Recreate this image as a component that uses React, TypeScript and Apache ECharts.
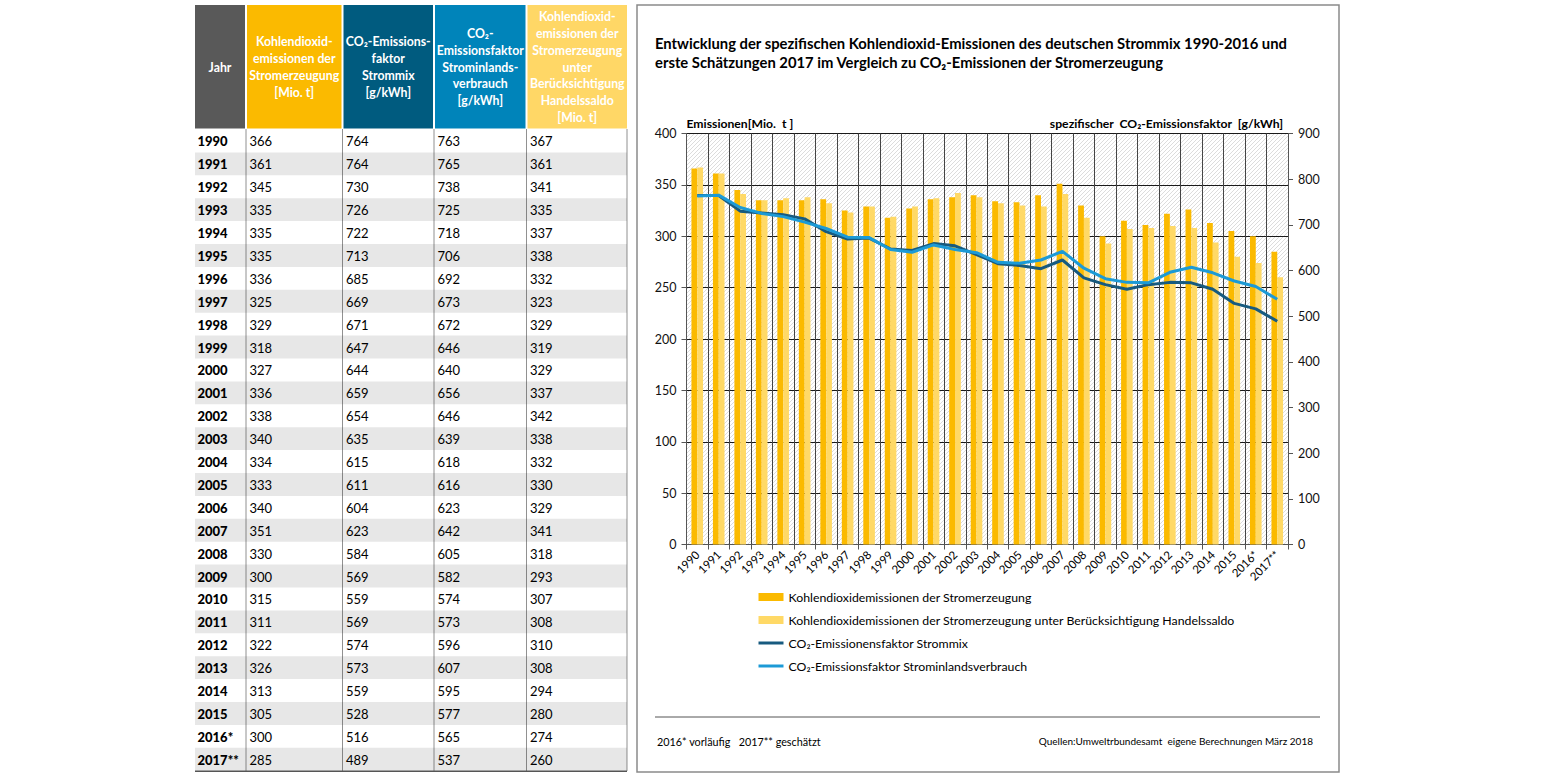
import React, { useEffect, useRef } from "react";
import * as echarts from "echarts";

const years = ["1990","1991","1992","1993","1994","1995","1996","1997","1998","1999","2000","2001","2002","2003","2004","2005","2006","2007","2008","2009","2010","2011","2012","2013","2014","2015","2016*","2017**"];
const emissions = [366,361,345,335,335,335,336,325,329,318,327,336,338,340,334,333,340,351,330,300,315,311,322,326,313,305,300,285];
const factorMix = [764,764,730,726,722,713,685,669,671,647,644,659,654,635,615,611,604,623,584,569,559,569,574,573,559,528,516,489];
const factorInland = [763,765,738,725,718,706,692,673,672,646,640,656,646,639,618,616,623,642,605,582,574,573,596,607,595,577,565,537];
const emissionsTrade = [367,361,341,335,337,338,332,323,329,319,329,337,342,338,332,330,329,341,318,293,307,308,310,308,294,280,274,260];

const tableHeaders = [
  "Jahr",
  "Kohlendioxid-\nemissionen der\nStromerzeugung\n[Mio. t]",
  "CO₂-Emissions-\nfaktor\nStrommix\n[g/kWh]",
  "CO₂-\nEmissionsfaktor\nStrominlands-\nverbrauch\n[g/kWh]",
  "Kohlendioxid-\nemissionen der\nStromerzeugung\nunter\nBerücksichtigung\nHandelssaldo\n[Mio. t]",
];
const seriesNames = [
  "Kohlendioxidemissionen der Stromerzeugung",
  "Kohlendioxidemissionen der Stromerzeugung unter Berücksichtigung Handelssaldo",
  "CO₂-Emissionensfaktor Strommix",
  "CO₂-Emissionsfaktor Strominlandsverbrauch",
];
const titleText =
  "Entwicklung der spezifischen Kohlendioxid-Emissionen des deutschen Strommix 1990-2016 und\nerste Schätzungen 2017 im Vergleich zu CO₂-Emissionen der Stromerzeugung";
const leftAxisName = "Emissionen[Mio.  t ]";
const rightAxisName = "spezifischer  CO₂-Emissionsfaktor  [g/kWh]";
const footLeft = "2016* vorläufig   2017** geschätzt";
const footRight = "Quellen:Umweltrbundesamt  eigene Berechnungen März 2018";

const FONT = "Lato, 'Open Sans', 'DejaVu Sans', sans-serif";
const C_BAR1 = "#FBBA00";
const C_BAR2 = "#FFD966";
const C_MIX = "#175A7F";
const C_INL = "#1C9AD6";
const headerFills = ["#595959", "#FBBA00", "#005B7F", "#0084BA", "#FFD766"];

function buildTable(): any[] {
  const edges = [195, 246, 342.5, 434, 526.5, 627];
  const hTop = 5, hBot = 128.5;
  const rowTop = 129.5, rowH = 22.9;
  const els: any[] = [];
  const cols = [years, emissions, factorMix, factorInland, emissionsTrade];
  for (let i = 0; i < 5; i++) {
    const x0 = i === 0 ? edges[0] : edges[i] + 1;
    const x1 = i === 4 ? edges[5] : edges[i + 1] - 1;
    els.push({ type: "rect", shape: { x: x0, y: hTop, width: x1 - x0, height: hBot - hTop }, style: { fill: headerFills[i] } });
    els.push({
      type: "text", x: (x0 + x1) / 2, y: 67,
      style: { text: tableHeaders[i], fill: "#fff", fontFamily: FONT, fontWeight: "bold", fontSize: 12.3, lineHeight: 16.8, align: "center", verticalAlign: "middle", textAlign: "center", textVerticalAlign: "middle" },
    });
  }
  for (let r = 0; r < years.length; r++) {
    const y = rowTop + r * rowH;
    if (r % 2 === 1) {
      els.push({ type: "rect", shape: { x: edges[0], y, width: edges[5] - edges[0], height: rowH }, style: { fill: "#E7E7E7" } });
    }
    for (let c = 0; c < 5; c++) {
      els.push({
        type: "text", x: edges[c] + (c === 0 ? 2.5 : 3.5), y: y + rowH / 2 + 0.5,
        style: { text: String(cols[c][r]), fill: "#000", fontFamily: FONT, fontWeight: c === 0 ? "900" : "normal", fontSize: 13, align: "left", verticalAlign: "middle", textAlign: "left", textVerticalAlign: "middle" },
      });
    }
  }
  const yEnd = rowTop + years.length * rowH;
  for (let c = 1; c < 6; c++) {
    els.push({ type: "line", shape: { x1: edges[c], y1: rowTop, x2: edges[c], y2: yEnd }, style: { stroke: "#222", lineWidth: 1, lineDash: [1, 1] } });
  }
  els.push({ type: "line", shape: { x1: edges[0], y1: yEnd + 0.5, x2: edges[5], y2: yEnd + 0.5 }, style: { stroke: "#555", lineWidth: 1.5 } });
  return els;
}

function hatchRender(params: any, api: any) {
  const cs = params.coordSys;
  const x = cs.x, y = cs.y, w = cs.width, h = cs.height;
  const step = 4;
  const children: any[] = [];
  for (let c = x + y + step; c < x + w + y + h; c += step) {
    const xs = Math.max(x, c - (y + h));
    const xe = Math.min(x + w, c - y);
    children.push({ type: "line", shape: { x1: xs, y1: c - xs, x2: xe, y2: c - xe }, style: { stroke: "#D3D3D3", lineWidth: 0.8 } });
  }
  return { type: "group", children };
}

export default function App() {
  const ref = useRef<HTMLDivElement>(null);
  useEffect(() => {
    if (!ref.current) return;
    const chart = echarts.init(ref.current, null, { renderer: "svg" });
    const option: any = {
      animation: false,
      backgroundColor: "#fff",
      title: {
        text: titleText, left: 655, top: 33.5, padding: 0,
        textStyle: { fontFamily: FONT, fontWeight: "bold", fontSize: 14.8, lineHeight: 19, color: "#000" },
      },
      grid: { left: 686.5, right: 1545 - 1288, top: 133.5, bottom: 775 - 544.5, containLabel: false },
      legend: {
        orient: "vertical", left: 757, top: 591, padding: 0, itemGap: 11, itemWidth: 25, itemHeight: 8,
        textStyle: { fontFamily: FONT, fontSize: 12.3, color: "#000" },
        lineStyle: { width: 3 },
        data: [
          { name: seriesNames[0], icon: "rect" },
          { name: seriesNames[1], icon: "rect" },
          { name: seriesNames[2], itemStyle: { opacity: 0 }, lineStyle: { width: 3 } },
          { name: seriesNames[3], itemStyle: { opacity: 0 }, lineStyle: { width: 3 } },
        ],
      },
      xAxis: {
        type: "category", data: years, boundaryGap: true,
        axisLine: { lineStyle: { color: "#555" } },
        axisTick: { show: true, length: 5, lineStyle: { color: "#555" } },
        axisLabel: { interval: 0, rotate: 45, fontFamily: FONT, fontSize: 11.5, color: "#000", margin: 8 },
        splitLine: { show: true, interval: 0, lineStyle: { color: "#444", width: 1 } },
      },
      yAxis: [
        {
          type: "value", min: 0, max: 400, interval: 50, position: "left",
          name: leftAxisName, nameLocation: "end", nameGap: 4,
          nameTextStyle: { align: "left", fontFamily: FONT, fontWeight: "bold", fontSize: 12.2, color: "#000" },
          axisLine: { show: true, lineStyle: { color: "#555" } },
          axisTick: { show: true, length: 5, lineStyle: { color: "#555" } },
          axisLabel: { fontFamily: FONT, fontSize: 12.5, color: "#111", margin: 10 },
          splitLine: { show: true, lineStyle: { color: "#1a1a1a", width: 1 } },
        },
        {
          type: "value", min: 0, max: 900, interval: 100, position: "right",
          name: rightAxisName, nameLocation: "end", nameGap: 4,
          nameTextStyle: { align: "right", padding: [0, 5, 0, 0], fontFamily: FONT, fontWeight: "bold", fontSize: 12.2, color: "#000" },
          axisLine: { show: true, lineStyle: { color: "#555" } },
          axisTick: { show: true, length: 5, lineStyle: { color: "#555" } },
          axisLabel: { fontFamily: FONT, fontSize: 12.5, color: "#111", margin: 10 },
          splitLine: { show: false },
        },
      ],
      series: [
        { type: "custom", name: "hatch", silent: true, z: -1, xAxisIndex: 0, yAxisIndex: 0, data: [[0, 0]], renderItem: hatchRender, tooltip: { show: false } },
        { type: "bar", name: seriesNames[0], data: emissions, barWidth: "27%", barGap: "0%", itemStyle: { color: C_BAR1 }, yAxisIndex: 0 },
        { type: "bar", name: seriesNames[1], data: emissionsTrade, barWidth: "27%", barGap: "0%", itemStyle: { color: C_BAR2 }, yAxisIndex: 0 },
        { type: "line", name: seriesNames[2], data: factorMix, yAxisIndex: 1, symbol: "none", showSymbol: false, z: 3, lineStyle: { color: C_MIX, width: 3 }, itemStyle: { color: C_MIX } },
        { type: "line", name: seriesNames[3], data: factorInland, yAxisIndex: 1, symbol: "none", showSymbol: false, z: 4, lineStyle: { color: C_INL, width: 3 }, itemStyle: { color: C_INL } },
      ],
      graphic: [
        ...buildTable(),
        { type: "rect", shape: { x: 637, y: 5, width: 702, height: 767 }, style: { fill: "none", stroke: "#8a8a8a", lineWidth: 1.5 }, silent: true },
        { type: "line", shape: { x1: 655, y1: 717, x2: 1320, y2: 717 }, style: { stroke: "#555", lineWidth: 1 } },
        { type: "text", x: 657, y: 741, style: { text: footLeft, fill: "#000", fontFamily: FONT, fontSize: 10.8, align: "left", verticalAlign: "middle", textAlign: "left", textVerticalAlign: "middle" } },
        { type: "text", x: 1313, y: 741, style: { text: footRight, fill: "#000", fontFamily: FONT, fontSize: 10, align: "right", verticalAlign: "middle", textAlign: "right", textVerticalAlign: "middle" } },
      ],
    };
    chart.setOption(option);
    return () => chart.dispose();
  }, []);
  return <div ref={ref} style={{ position: "fixed", left: 0, top: 0, width: 1545, height: 775, background: "#fff" }} />;
}
